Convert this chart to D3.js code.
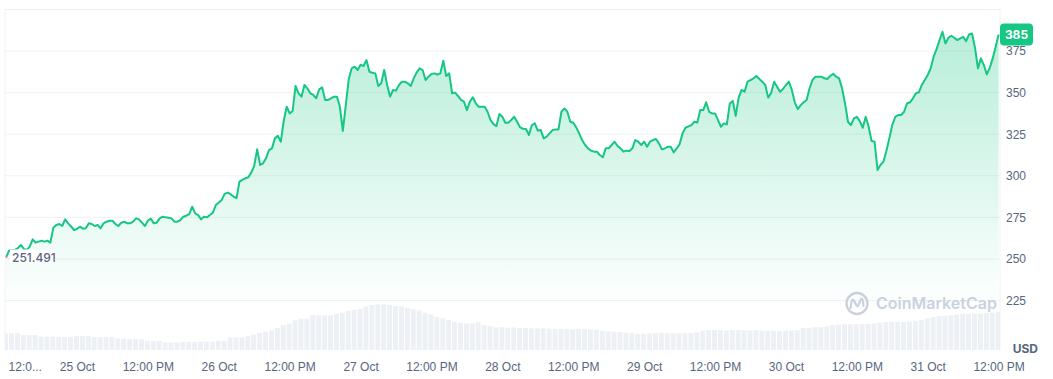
<!DOCTYPE html>
<html lang="en">
<head>
<meta charset="utf-8">
<title>Price chart</title>
<script src="https://d3js.org/d3.v7.min.js"></script>
<style>
  body { margin: 0; background: #fff; }
  svg { display: block; font-family: Inter, "Noto Sans", sans-serif; }
  .tick text { fill: #58667e; font-size: 12px; }
</style>
</head>
<body>
<script>
// half-hourly prices, 24 Oct 12:00 -> 31 Oct 12:00
var startTime = new Date(2024, 9, 24, 12, 0);
var priceStepMinutes = 30;
var volumeStepMinutes = 60;
var openPrice = 251.491;
var lastPrice = 385;

var prices = [
  250.9, 255, 255.4, 255.4, 256.5, 258.4, 256, 255.4, 257.4, 261.8,
  259.8, 260.4, 261, 260.4, 261, 259.8, 268.8, 270.4, 271, 269.8,
  273.8, 271.4, 269.5, 267.4, 268, 269.4, 268.2, 268.4, 271.4, 271,
  269.8, 270.4, 268.4, 271.4, 272.4, 273, 273, 271, 269.8, 271.8,
  272.4, 271.4, 271.4, 272.4, 274.4, 273.8, 271.8, 269.8, 273, 274.2,
  271.4, 271.8, 274.4, 275.4, 275, 274.8, 274.4, 272.4, 272.4, 273.4,
  275.4, 276, 277, 281.4, 277.4, 276.4, 273.8, 275.4, 275, 276.4,
  277.8, 282.4, 283.9, 285.5, 289.1, 289.9, 288.9, 287.5, 286.5, 296.5,
  297.5, 298.5, 299.1, 301.9, 306, 315.9, 306.5, 307.5, 310.5, 315.5,
  316.5, 322.5, 324, 320.5, 333.1, 341.5, 337.5, 339, 354, 349.6,
  347.6, 354.6, 352.6, 349.6, 348.6, 346.6, 352, 353.2, 345.6, 345.6,
  346.6, 347.6, 347.6, 341.5, 327, 342.5, 358, 364.6, 365.6, 363.6,
  366.8, 366, 369.6, 362.6, 362, 361.6, 354, 355.6, 363.6, 354.6,
  347.6, 351.6, 351.2, 354.6, 356.6, 356.6, 355.6, 354, 358.6, 362.2,
  364.6, 363.6, 357.6, 359.6, 361.2, 361.6, 360.8, 361.6, 369.2, 360,
  361.6, 349.6, 350, 348, 345.6, 344.6, 339.5, 344.6, 347.2, 343.6,
  341.5, 341.5, 341.5, 338.5, 333.5, 331.1, 329.9, 337.1, 335.5, 331.9,
  331.9, 333.5, 335.5, 332.5, 329.1, 328.3, 328.1, 324.5, 330.5, 331.5,
  327.1, 327.5, 322.5, 323.5, 325.5, 327.5, 327.9, 327.9, 338.5, 340.5,
  338.5, 332.5, 331.9, 329.1, 325.5, 321.5, 318.5, 316.5, 315.1, 314.5,
  314.5, 312.5, 311.1, 316.5, 316.5, 318.5, 320.5, 317.9, 316.5, 314.5,
  315.1, 314.9, 316.5, 321.5, 320.5, 318.5, 320.5, 317.5, 320.5, 321.5,
  322.1, 319.5, 315.9, 316.5, 317.5, 317.5, 314.1, 316.5, 318.9, 325.5,
  328.9, 329.7, 330.5, 332.5, 332.1, 339.5, 339.5, 344.2, 338.5, 337.5,
  337.5, 333.5, 329.5, 331.5, 330.9, 343.5, 345, 336, 347, 351.6,
  350.6, 356.6, 357.6, 358.6, 360, 358.2, 356.6, 354.6, 347, 350,
  356.6, 353.6, 350.6, 352.2, 354.6, 356.6, 351.6, 344.2, 340.1, 342.5,
  344.2, 345.6, 352.6, 357.6, 359.6, 359.6, 359.6, 358.6, 358.2, 360,
  361.4, 359.6, 358.6, 352.6, 343.5, 332.5, 330.5, 334.5, 335.5, 332.9,
  328.9, 335.5, 329.5, 320.9, 320.5, 303.5, 306.5, 308.5, 314.9, 322.5,
  330.5, 335.5, 336.5, 336.5, 338.5, 343.5, 344.2, 346.6, 349.6, 350.2,
  354.6, 357.6, 360.6, 364.6, 371.6, 376.2, 381.6, 386.6, 379.6, 383,
  384.2, 383, 381.6, 382.6, 383.6, 381, 385, 385.6, 377, 364.6,
  370.6, 366.6, 361, 364.9, 370.6, 377.6, 385
];

// hourly volume, millions USD
var volumes = [
  68, 68, 68, 60, 60, 60, 54, 54, 54, 52, 52, 52, 56, 56, 56, 52, 52, 52, 52, 47,
  47, 43, 43, 43, 37, 37, 37, 30, 30, 30, 32, 32, 32, 34, 34, 34, 38, 38, 51, 51,
  51, 56, 62, 69, 74, 80, 89, 100, 107, 120, 127, 126, 142, 140, 140, 140, 146, 150, 158, 162,
  166, 176, 182, 184, 184, 182, 178, 176, 170, 164, 160, 150, 144, 134, 128, 122, 114, 110, 107, 108,
  113, 100, 96, 91, 92, 90, 91, 89, 88, 88, 87, 88, 86, 85, 84, 84, 83, 85, 84, 83,
  82, 78, 76, 74, 72, 70, 68, 64, 66, 67, 68, 69, 68, 68, 67, 68, 69, 72, 78, 80,
  81, 80, 79, 80, 81, 80, 79, 80, 79, 78, 78, 77, 78, 79, 80, 88, 90, 92, 93, 95,
  100, 102, 104, 104, 104, 105, 106, 107, 110, 113, 114, 113, 113, 115, 118, 122, 128, 133, 136, 138,
  140, 144, 146, 146, 146, 147, 149, 151, 153
];

var priceTicks = [225, 250, 275, 300, 325, 350, 375];
var gridLevels = [225, 250, 275, 300, 325, 350, 375, 400];

var priceData = prices.map(function(p, i) {
  return { t: d3.timeMinute.offset(startTime, i * priceStepMinutes), v: p };
});
var volData = volumes.map(function(v, i) {
  return { t: d3.timeMinute.offset(startTime, i * volumeStepMinutes), v: v };
});
var endTime = priceData[priceData.length - 1].t;

var width = 1053, height = 379;
var left = 5, right = 1000, volBottom = 350;

var x = d3.scaleTime()
  .domain([d3.timeMinute.offset(startTime, -11), d3.timeMinute.offset(endTime, 14)])
  .range([left, right]);
var y = d3.scaleLinear().domain([225, 400]).range([300.5, 9.5]);
var yVol = d3.scaleLinear().domain([0, 200]).range([volBottom, 300.5]);

var svg = d3.select("body").append("svg")
  .attr("width", width)
  .attr("height", height);

var defs = svg.append("defs");
var grad = defs.append("linearGradient")
  .attr("id", "fillGrad")
  .attr("gradientUnits", "userSpaceOnUse")
  .attr("x1", 0).attr("x2", 0)
  .attr("y1", y(395)).attr("y2", y(220));
grad.append("stop").attr("offset", "0%").attr("stop-color", "#16c784").attr("stop-opacity", 0.32);
grad.append("stop").attr("offset", "100%").attr("stop-color", "#16c784").attr("stop-opacity", 0);

defs.append("clipPath").attr("id", "plotClip")
  .append("rect").attr("x", left).attr("y", 0).attr("width", right - left).attr("height", volBottom);
defs.append("clipPath").attr("id", "aboveOpen")
  .append("rect").attr("x", 0).attr("y", 0).attr("width", width).attr("height", y(openPrice));
defs.append("clipPath").attr("id", "belowOpen")
  .append("rect").attr("x", 0).attr("y", y(openPrice)).attr("width", width).attr("height", height);

// gridlines
svg.append("g").selectAll("line")
  .data(gridLevels)
  .join("line")
  .attr("x1", left).attr("x2", right)
  .attr("y1", function(d) { return y(d); })
  .attr("y2", function(d) { return y(d); })
  .attr("stroke", "#eff2f5")
  .attr("stroke-width", 1);

svg.append("line")
  .attr("x1", left).attr("x2", left)
  .attr("y1", y(400)).attr("y2", volBottom)
  .attr("stroke", "#eff2f5");
svg.append("line")
  .attr("x1", right).attr("x2", right)
  .attr("y1", y(400)).attr("y2", volBottom)
  .attr("stroke", "#eff2f5");

// volume bars
var step = x(volData[1].t) - x(volData[0].t);
svg.append("g")
  .attr("clip-path", "url(#plotClip)")
  .selectAll("rect")
  .data(volData)
  .join("rect")
  .attr("x", function(d) { return x(d.t) - step / 2; })
  .attr("width", step - 1)
  .attr("y", function(d) { return yVol(d.v); })
  .attr("height", function(d) { return volBottom - yVol(d.v); })
  .attr("fill", "#edf0f4");

// watermark
var wm = svg.append("g").attr("fill", "none").attr("stroke", "#cbd2de");
wm.append("circle").attr("cx", 857).attr("cy", 303.5).attr("r", 10.5).attr("stroke-width", 2.4);
wm.append("path")
  .attr("d", "M850.5,308 L851.5,302 Q852.5,298 854.5,301.5 L856.5,305.5 Q857.5,307 858.5,305 L860.5,300 Q862.5,297 863,302 L863.5,306")
  .attr("stroke-width", 2.2)
  .attr("stroke-linecap", "round")
  .attr("stroke-linejoin", "round");
svg.append("text")
  .attr("x", 876).attr("y", 309)
  .attr("fill", "#cbd2de")
  .attr("font-size", 16)
  .attr("font-weight", 600)
  .text("CoinMarketCap");

// price area + line
var area = d3.area()
  .x(function(d) { return x(d.t); })
  .y0(volBottom)
  .y1(function(d) { return y(d.v); });
var line = d3.line()
  .x(function(d) { return x(d.t); })
  .y(function(d) { return y(d.v); });

svg.append("path")
  .datum(priceData)
  .attr("d", area)
  .attr("fill", "url(#fillGrad)");

svg.append("path")
  .datum(priceData)
  .attr("clip-path", "url(#aboveOpen)")
  .attr("d", line)
  .attr("fill", "none")
  .attr("stroke", "#16c784")
  .attr("stroke-width", 2)
  .attr("stroke-linejoin", "round");
svg.append("path")
  .datum(priceData)
  .attr("clip-path", "url(#belowOpen)")
  .attr("d", line)
  .attr("fill", "none")
  .attr("stroke", "#ea3943")
  .attr("stroke-width", 2)
  .attr("stroke-linejoin", "round");

// right price axis
var yAxis = svg.append("g")
  .attr("transform", "translate(" + right + ",0)")
  .call(d3.axisRight(y).tickValues(priceTicks).tickSize(0).tickPadding(6));
yAxis.select(".domain").remove();

// bottom time axis
var xTicks = d3.timeHour.every(12).range(startTime, d3.timeMinute.offset(endTime, 1));
var fmtDay = d3.timeFormat("%-d %b");
var fmtTime = d3.timeFormat("%-I:%M %p");
var xAxis = svg.append("g")
  .attr("transform", "translate(0," + volBottom + ")")
  .call(d3.axisBottom(x).tickValues(xTicks).tickSize(0).tickPadding(12)
    .tickFormat(function(d, i) {
      if (i === 0) return "12:0...";
      return d.getHours() === 0 ? fmtDay(d) : fmtTime(d);
    }));
xAxis.select(".domain").remove();
xAxis.selectAll(".tick text")
  .filter(function(d, i) { return i === 0; })
  .attr("text-anchor", "start")
  .attr("x", 2);

svg.append("text")
  .attr("x", 1038).attr("y", 348)
  .attr("text-anchor", "end")
  .attr("dominant-baseline", "central")
  .attr("fill", "#58667e")
  .attr("font-size", 12)
  .attr("font-weight", 700)
  .text("USD");

// open price label
var openG = svg.append("g");
openG.append("rect")
  .attr("x", 10).attr("y", y(openPrice) - 7)
  .attr("width", 46).attr("height", 14)
  .attr("fill", "#fff");
openG.append("text")
  .attr("x", 12).attr("y", y(openPrice) + 1)
  .attr("dominant-baseline", "central")
  .attr("fill", "#58667e")
  .attr("font-size", 12)
  .attr("font-weight", 500)
  .text(openPrice);

// last price badge
var badge = svg.append("g");
badge.append("rect")
  .attr("x", right).attr("y", y(lastPrice) - 11)
  .attr("width", 33).attr("height", 22)
  .attr("rx", 4)
  .attr("fill", "#16c784");
badge.append("text")
  .attr("x", right + 16.5).attr("y", y(lastPrice))
  .attr("text-anchor", "middle")
  .attr("dominant-baseline", "central")
  .attr("fill", "#fff")
  .attr("font-size", 12)
  .attr("font-weight", 700)
  .text(lastPrice);
</script>
</body>
</html>
